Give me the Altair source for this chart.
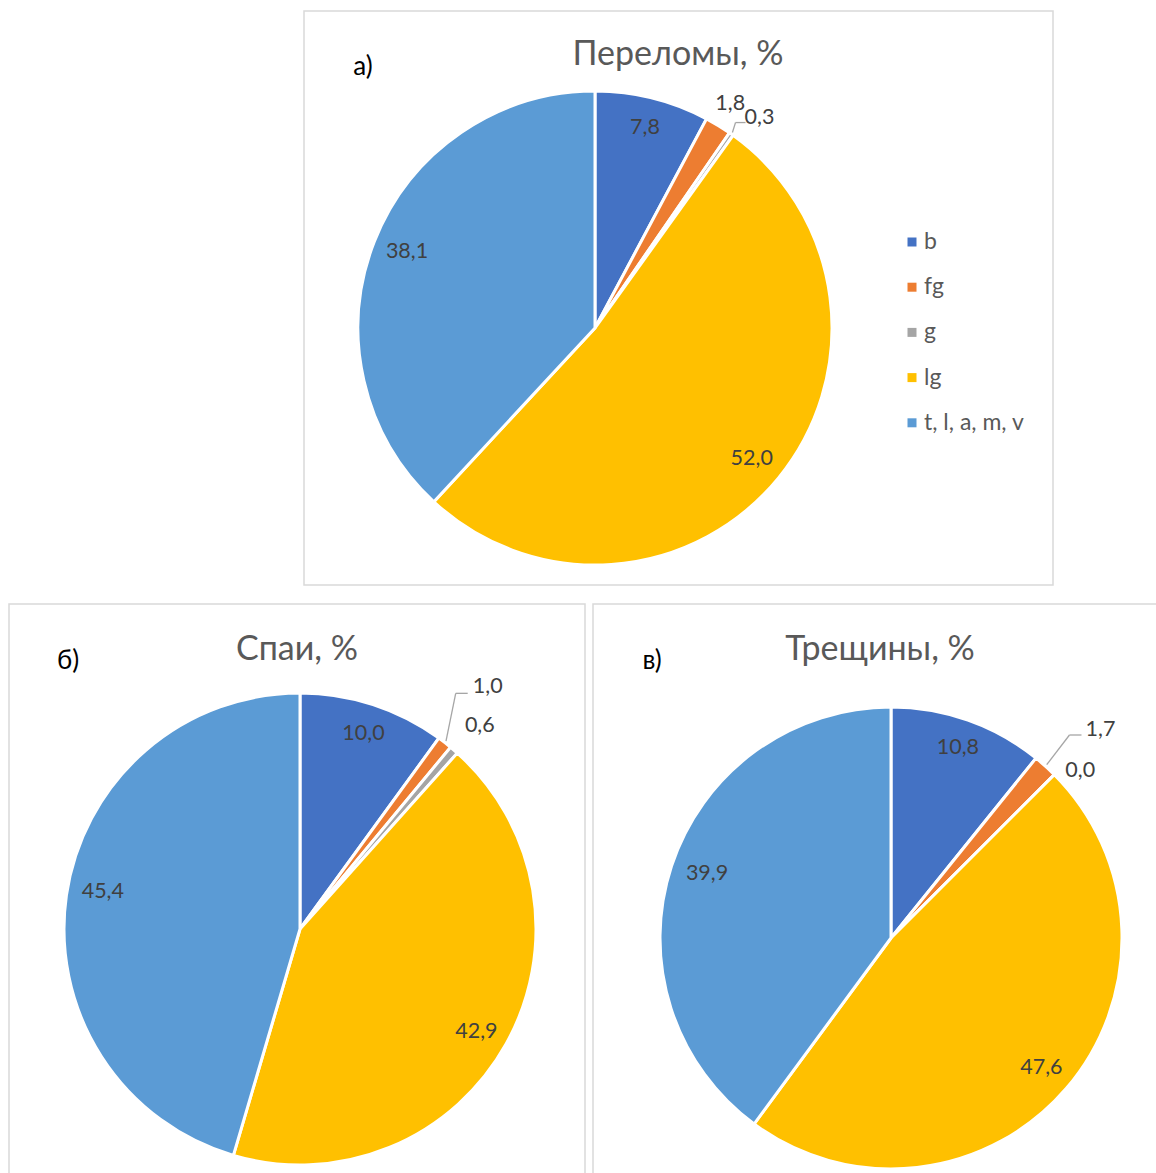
import altair as alt
import pandas as pd

categories = ["b", "fg", "g", "lg", "t, l, a, m, v"]
colors = ["#4472C4", "#ED7D31", "#A5A5A5", "#FFC000", "#5B9BD5"]
fractures = [7.8, 1.8, 0.3, 52.0, 38.1]
cleavages = [10.0, 1.0, 0.6, 42.9, 45.4]
cracks = [10.8, 1.7, 0.0, 47.6, 39.9]
titles = ["Переломы, %", "Спаи, %", "Трещины, %"]
panel_letters = ["а)", "б)", "в)"]

FONT = "Lato"
W, H = 1156, 1173
LABEL_COLOR = "#404040"
TITLE_COLOR = "#595959"
color_scale = alt.Scale(domain=categories, range=colors)


def pie_df(values):
    return pd.DataFrame({
        "cat": categories,
        "value": values,
        "order": list(range(len(values))),
        "label": [f"{v:.1f}".replace(".", ",") for v in values],
    })


def lookup_expr(mapping, default):
    expr = str(default)
    for k, v in mapping.items():
        expr = f"(datum.cat == '{k}' ? {v} : {expr})"
    return expr


def pie(values, cx, cy, r, place, leaders):
    df = pie_df(values)
    default_R = round(0.87 * r, 1)
    R_map = {k: v[0] for k, v in place.items() if v[0] is not None}
    dx_map = {k: v[1] for k, v in place.items()}
    dy_map = {k: v[2] for k, v in place.items()}
    base = (
        alt.Chart(df)
        .transform_window(cum="sum(value)", sort=[alt.SortField("order")], frame=[None, 0])
        .transform_joinaggregate(total="sum(value)")
        .transform_calculate(
            t0="2*PI*(datum.cum-datum.value)/datum.total",
            t1="2*PI*datum.cum/datum.total",
        )
        .transform_calculate(mid="(datum.t0+datum.t1)/2")
        .transform_calculate(
            R=lookup_expr(R_map, default_R),
            ddx=lookup_expr(dx_map, 0),
            ddy=lookup_expr(dy_map, 0),
        )
        .transform_calculate(
            lx=f"{cx} + datum.R*sin(datum.mid) + datum.ddx",
            ly=f"{cy} - datum.R*cos(datum.mid) + datum.ddy",
        )
    )
    arcs = base.mark_arc(outerRadius=r, stroke="white", strokeWidth=3).encode(
        theta=alt.Theta("t0:Q", scale=None),
        theta2="t1:Q",
        x=alt.value(cx),
        y=alt.value(cy),
        color=alt.Color("cat:N", scale=color_scale, legend=None),
    )
    labels = base.mark_text(
        font=FONT, fontSize=21.5, color=LABEL_COLOR, align="center", baseline="middle"
    ).encode(
        x=alt.X("lx:Q", scale=None),
        y=alt.Y("ly:Q", scale=None),
        text="label:N",
    )
    layers = [arcs, labels]
    for cat, (bdx, bdy, cdx) in leaders.items():
        lb = base.transform_filter(f"datum.cat == '{cat}'").transform_calculate(
            ax=f"{cx} + {r + 2}*sin(datum.mid)",
            ay=f"{cy} - {r + 2}*cos(datum.mid)",
            bx=f"datum.lx + {bdx}",
            by=f"datum.ly + {bdy}",
            ex=f"datum.lx + {cdx}",
        )
        seg1 = lb.mark_rule(color="#A6A6A6", strokeWidth=1.3).encode(
            x=alt.X("ax:Q", scale=None), y=alt.Y("ay:Q", scale=None),
            x2="bx:Q", y2="by:Q",
        )
        seg2 = lb.mark_rule(color="#A6A6A6", strokeWidth=1.3).encode(
            x=alt.X("bx:Q", scale=None), y=alt.Y("by:Q", scale=None),
            x2="ex:Q", y2="by:Q",
        )
        layers += [seg1, seg2]
    return layers


def box(x0, x1, y0, y1):
    return alt.Chart(pd.DataFrame({"k": [0]})).mark_rect(
        filled=False, stroke="#D9D9D9", strokeWidth=1.5
    ).encode(x=alt.value(x0), x2=alt.value(x1), y=alt.value(y0), y2=alt.value(y1))


def text_at(txt, x, y, size, color):
    return alt.Chart(pd.DataFrame({"k": [0]})).mark_text(
        font=FONT, fontSize=size, color=color, align="center", baseline="middle"
    ).encode(x=alt.value(x), y=alt.value(y), text=alt.value(txt))


layers = [
    box(304, 1053, 11, 585),
    box(9, 585, 604, 1180),
    box(593, 1165, 604, 1180),
]

layers += pie(
    fractures, 595, 328, 237,
    place={"fg": (262, -1, 0), "g": (267, 11, 8), "t, l, a, m, v": (None, 4, -1), "lg": (None, -3, 1)},
    leaders={"g": (-24, 5, -14)},
)
layers += pie(
    cleavages, 300, 929, 236,
    place={"fg": (306, 0, 0), "g": (271, 3, 2), "t, l, a, m, v": (None, 6, -8), "lg": (None, -3, 3)},
    leaders={"fg": (-32, 6, -20)},
)
layers += pie(
    cracks, 891, 938, 231,
    place={"fg": (285, 19, 4), "g": (252, 11, 11), "t, l, a, m, v": (None, 7, -1), "lg": (None, -2, -1)},
    leaders={"fg": (-31, 5, -19)},
)

# legend for the top chart
leg = pd.DataFrame({"cat": categories, "idx": list(range(len(categories)))})
leg_base = alt.Chart(leg).transform_calculate(ly="242 + 45.2*datum.idx")
layers.append(
    leg_base.mark_square(size=81, opacity=1).encode(
        x=alt.value(912), y=alt.Y("ly:Q", scale=None),
        color=alt.Color("cat:N", scale=color_scale, legend=None),
    )
)
layers.append(
    leg_base.mark_text(font=FONT, fontSize=23, color=TITLE_COLOR, align="left", baseline="middle").encode(
        x=alt.value(924), y=alt.Y("ly:Q", scale=None), text="cat:N"
    )
)

# titles and panel letters
layers += [
    text_at(titles[0], 678, 55, 34, TITLE_COLOR),
    text_at(titles[1], 297, 650, 34, TITLE_COLOR),
    text_at(titles[2], 880, 650, 34, TITLE_COLOR),
    text_at(panel_letters[0], 363, 67, 26, "#000000"),
    text_at(panel_letters[1], 68, 661, 26, "#000000"),
    text_at(panel_letters[2], 652, 661, 26, "#000000"),
]

chart = (
    alt.layer(*layers)
    .resolve_scale(x="independent", y="independent", theta="independent")
    .properties(width=W, height=H, padding=0, autosize="none", background="white")
    .configure_view(stroke=None)
)

chart.save("out.html", embed_options={"renderer": "svg", "actions": False})
